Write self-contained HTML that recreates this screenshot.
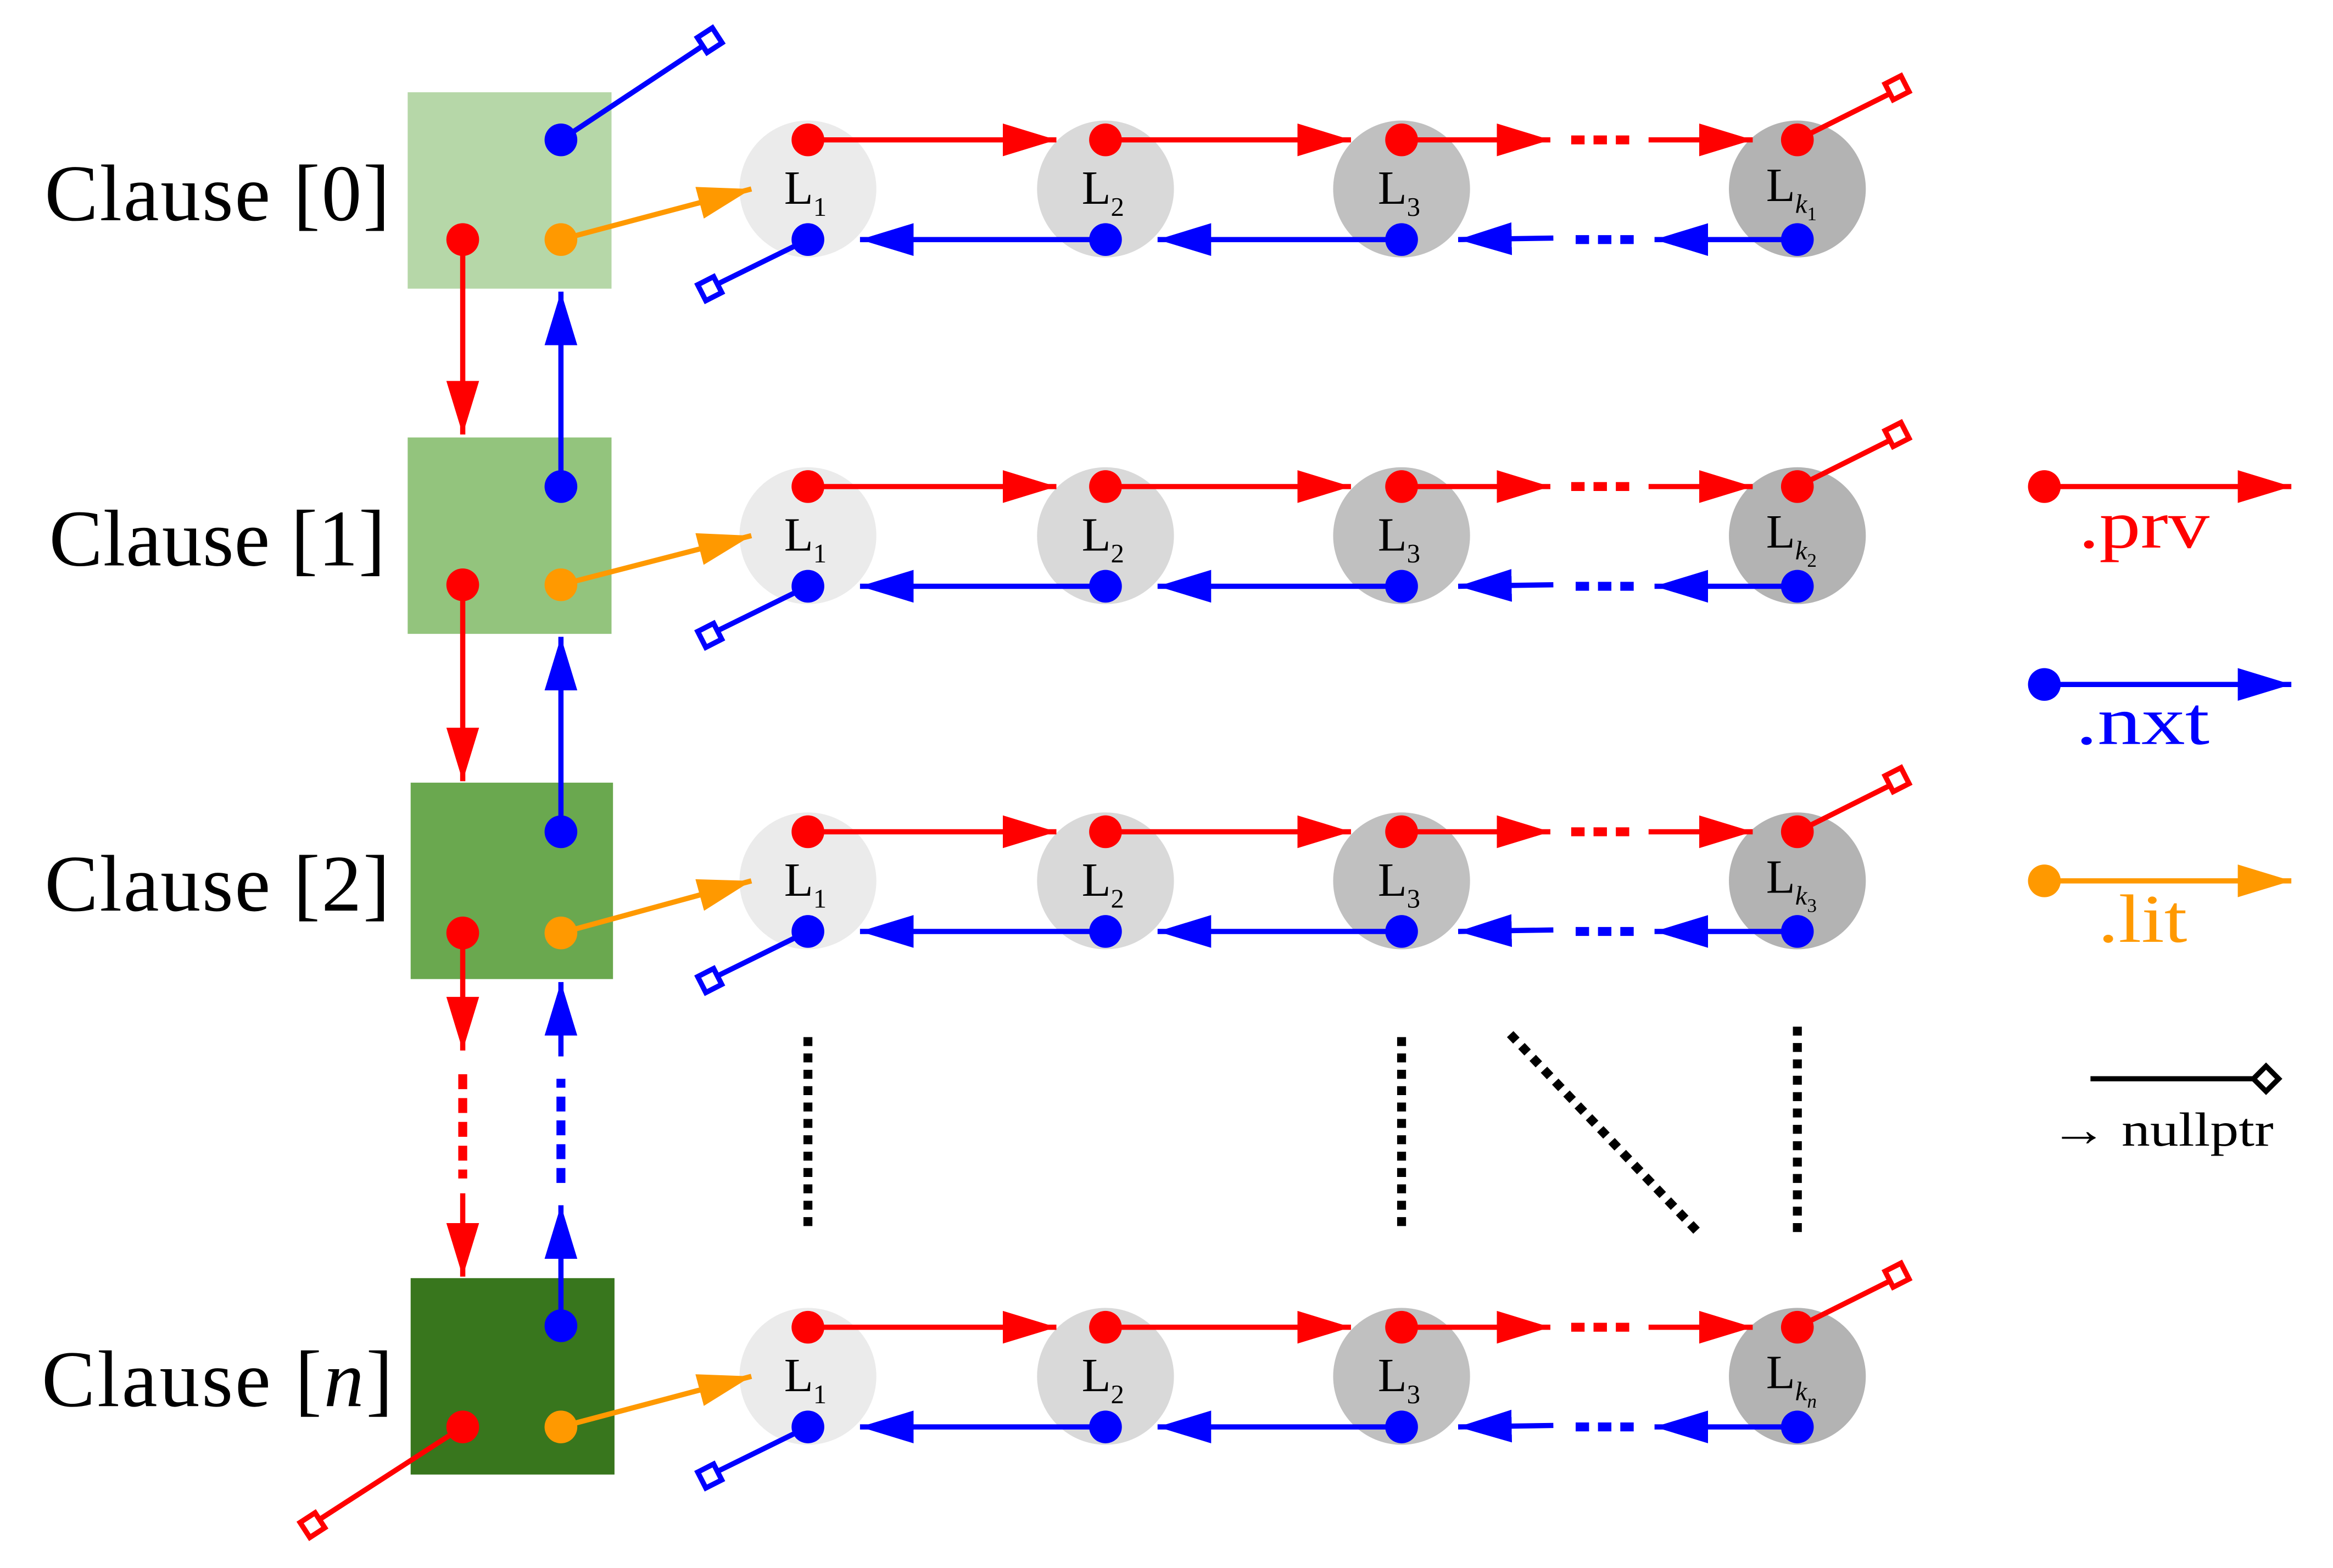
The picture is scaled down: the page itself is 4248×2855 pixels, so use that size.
<!DOCTYPE html>
<html><head><meta charset="utf-8"><style>html,body{margin:0;padding:0;background:#fff}svg{display:block}</style></head>
<body>
<svg width="4248" height="2855" viewBox="0 0 1568 1053.8" xmlns="http://www.w3.org/2000/svg" font-family="'Liberation Serif', serif">
<defs>
<marker id="ar" markerUnits="userSpaceOnUse" markerWidth="40" markerHeight="24" refX="36" refY="11" orient="auto"><path d="M0,0 L36,11 L0,22 Z" fill="#f00"/></marker>
<marker id="ab" markerUnits="userSpaceOnUse" markerWidth="40" markerHeight="24" refX="36" refY="11" orient="auto"><path d="M0,0 L36,11 L0,22 Z" fill="#00f"/></marker>
<marker id="ao" markerUnits="userSpaceOnUse" markerWidth="40" markerHeight="24" refX="36" refY="11" orient="auto"><path d="M0,0 L36,11 L0,22 Z" fill="#f90"/></marker>
<g id="row">
 <circle cx="543" cy="0" r="46" fill="#ebebeb"/>
 <circle cx="743" cy="0" r="46" fill="#d9d9d9"/>
 <circle cx="942" cy="0" r="46" fill="#c0c0c0"/>
 <circle cx="1208" cy="0" r="46" fill="#b3b3b3"/>
 <g stroke="#f00" stroke-width="3.5" fill="none">
  <line x1="543" y1="-33" x2="710" y2="-33" marker-end="url(#ar)"/>
  <line x1="743" y1="-33" x2="908" y2="-33" marker-end="url(#ar)"/>
  <line x1="942" y1="-33" x2="1042" y2="-33" marker-end="url(#ar)"/>
  <line x1="1056" y1="-33" x2="1098" y2="-33" stroke-width="6" stroke-dasharray="9,6"/>
  <line x1="1108" y1="-33" x2="1178" y2="-33" marker-end="url(#ar)"/>
  <line x1="1208" y1="-33" x2="1270" y2="-64"/>
  <rect x="1269" y="-74" width="12" height="12" fill="#fff" transform="rotate(-27 1275 -68)"/>
 </g>
 <g stroke="#00f" stroke-width="3.5" fill="none">
  <line x1="1208" y1="34" x2="1112" y2="34" marker-end="url(#ab)"/>
  <line x1="1098" y1="34" x2="1056" y2="34" stroke-width="6" stroke-dasharray="9,6"/>
  <line x1="1044" y1="33" x2="980" y2="34" marker-end="url(#ab)"/>
  <line x1="942" y1="34" x2="778" y2="34" marker-end="url(#ab)"/>
  <line x1="743" y1="34" x2="578" y2="34" marker-end="url(#ab)"/>
  <line x1="543" y1="34" x2="482" y2="64"/>
  <rect x="471" y="61" width="12" height="12" fill="#fff" transform="rotate(-27 477 67)"/>
 </g>
 <g fill="#f00"><circle cx="543" cy="-33" r="11"/><circle cx="743" cy="-33" r="11"/><circle cx="942" cy="-33" r="11"/><circle cx="1208" cy="-33" r="11"/></g>
 <g fill="#00f"><circle cx="543" cy="34" r="11"/><circle cx="743" cy="34" r="11"/><circle cx="942" cy="34" r="11"/><circle cx="1208" cy="34" r="11"/></g>
 <g font-size="32" fill="#000">
  <text x="527" y="10">L<tspan font-size="18" dy="8">1</tspan></text>
  <text x="727" y="10">L<tspan font-size="18" dy="8">2</tspan></text>
  <text x="926" y="10">L<tspan font-size="18" dy="8">3</tspan></text>
 </g>
</g>
</defs>

<use href="#row" y="127"/>
<use href="#row" y="360"/>
<use href="#row" y="592"/>
<use href="#row" y="925"/>
<g font-size="32" fill="#000">
 <text x="1187" y="135">L<tspan font-size="18" font-style="italic" dy="8">k</tspan><tspan font-size="13" dy="5">1</tspan></text>
 <text x="1187" y="368">L<tspan font-size="18" font-style="italic" dy="8">k</tspan><tspan font-size="13" dy="5">2</tspan></text>
 <text x="1187" y="600">L<tspan font-size="18" font-style="italic" dy="8">k</tspan><tspan font-size="13" dy="5">3</tspan></text>
 <text x="1187" y="933">L<tspan font-size="18" font-style="italic" dy="8">k</tspan><tspan font-size="13" font-style="italic" dy="5">n</tspan></text>
</g>

<rect x="274" y="62" width="137" height="132" fill="#b6d7a8"/>
<rect x="274" y="294" width="137" height="132" fill="#93c47d"/>
<rect x="276" y="526" width="136" height="132" fill="#6aa84f"/>
<rect x="276" y="859" width="137" height="132" fill="#38761d"/>

<g font-size="54" fill="#000">
 <text x="30" y="148" textLength="232" lengthAdjust="spacing">Clause [0]</text>
 <text x="33" y="380" textLength="226" lengthAdjust="spacing">Clause [1]</text>
 <text x="30" y="612" textLength="232" lengthAdjust="spacing">Clause [2]</text>
 <text x="28" y="945" textLength="236" lengthAdjust="spacing">Clause [<tspan font-style="italic">n</tspan>]</text>
</g>

<g stroke-width="3.5" fill="none">
 <line x1="311" y1="161" x2="311" y2="292" stroke="#f00" marker-end="url(#ar)"/>
 <line x1="311" y1="393" x2="311" y2="525" stroke="#f00" marker-end="url(#ar)"/>
 <line x1="311" y1="627" x2="311" y2="706" stroke="#f00" marker-end="url(#ar)"/>
 <line x1="311" y1="722" x2="311" y2="792" stroke="#f00" stroke-width="6" stroke-dasharray="10,6"/>
 <line x1="311" y1="802" x2="311" y2="858" stroke="#f00" marker-end="url(#ar)"/>
 <line x1="377" y1="327" x2="377" y2="196" stroke="#00f" marker-end="url(#ab)"/>
 <line x1="377" y1="559" x2="377" y2="428" stroke="#00f" marker-end="url(#ab)"/>
 <line x1="377" y1="891" x2="377" y2="810" stroke="#00f" marker-end="url(#ab)"/>
 <line x1="377" y1="795" x2="377" y2="725" stroke="#00f" stroke-width="6" stroke-dasharray="10,6"/>
 <line x1="377" y1="710" x2="377" y2="660" stroke="#00f" marker-end="url(#ab)"/>
 <line x1="377" y1="94" x2="472" y2="31" stroke="#00f"/>
 <rect x="471" y="21" width="12" height="12" fill="#fff" stroke="#00f" transform="rotate(-33 477 27)"/>
 <line x1="311" y1="959" x2="215" y2="1021" stroke="#f00"/>
 <rect x="204" y="1019" width="12" height="12" fill="#fff" stroke="#f00" transform="rotate(-33 210 1025)"/>
 <line x1="377" y1="161" x2="505" y2="127" stroke="#f90" marker-end="url(#ao)"/>
 <line x1="377" y1="393" x2="505" y2="360" stroke="#f90" marker-end="url(#ao)"/>
 <line x1="377" y1="627" x2="505" y2="592" stroke="#f90" marker-end="url(#ao)"/>
 <line x1="377" y1="959" x2="505" y2="925" stroke="#f90" marker-end="url(#ao)"/>
</g>
<g>
 <circle cx="311" cy="161" r="11" fill="#f00"/><circle cx="377" cy="94" r="11" fill="#00f"/><circle cx="377" cy="161" r="11" fill="#f90"/>
 <circle cx="311" cy="393" r="11" fill="#f00"/><circle cx="377" cy="327" r="11" fill="#00f"/><circle cx="377" cy="393" r="11" fill="#f90"/>
 <circle cx="311" cy="627" r="11" fill="#f00"/><circle cx="377" cy="559" r="11" fill="#00f"/><circle cx="377" cy="627" r="11" fill="#f90"/>
 <circle cx="311" cy="959" r="11" fill="#f00"/><circle cx="377" cy="891" r="11" fill="#00f"/><circle cx="377" cy="959" r="11" fill="#f90"/>
</g>

<g stroke="#000" stroke-width="6" stroke-dasharray="6,5" fill="none">
 <line x1="543" y1="697" x2="543" y2="826"/>
 <line x1="942" y1="697" x2="942" y2="826"/>
 <line x1="1015" y1="695" x2="1143" y2="830"/>
 <line x1="1208" y1="690" x2="1208" y2="828"/>
</g>

<g stroke-width="3.5" fill="none">
 <line x1="1374" y1="327" x2="1540" y2="327" stroke="#f00" marker-end="url(#ar)"/>
 <line x1="1374" y1="460" x2="1540" y2="460" stroke="#00f" marker-end="url(#ab)"/>
 <line x1="1374" y1="592" x2="1540" y2="592" stroke="#f90" marker-end="url(#ao)"/>
 <line x1="1405" y1="725" x2="1515" y2="725" stroke="#000"/>
 <rect x="1517" y="719" width="12" height="12" fill="#fff" stroke="#000" transform="rotate(45 1523 725)"/>
</g>
<circle cx="1374" cy="327" r="11" fill="#f00"/>
<circle cx="1374" cy="460" r="11" fill="#00f"/>
<circle cx="1374" cy="592" r="11" fill="#f90"/>
<g font-size="46">
 <text x="1397" y="368" fill="#f00" textLength="88" lengthAdjust="spacingAndGlyphs">.prv</text>
 <text x="1395" y="500" fill="#00f" textLength="90" lengthAdjust="spacingAndGlyphs">.nxt</text>
 <text x="1410" y="633" fill="#f90" textLength="60" lengthAdjust="spacingAndGlyphs">.lit</text>
</g>
<text x="1378" y="770" font-size="32" fill="#000" textLength="150" lengthAdjust="spacingAndGlyphs">→ nullptr</text>
</svg>
</body></html>
